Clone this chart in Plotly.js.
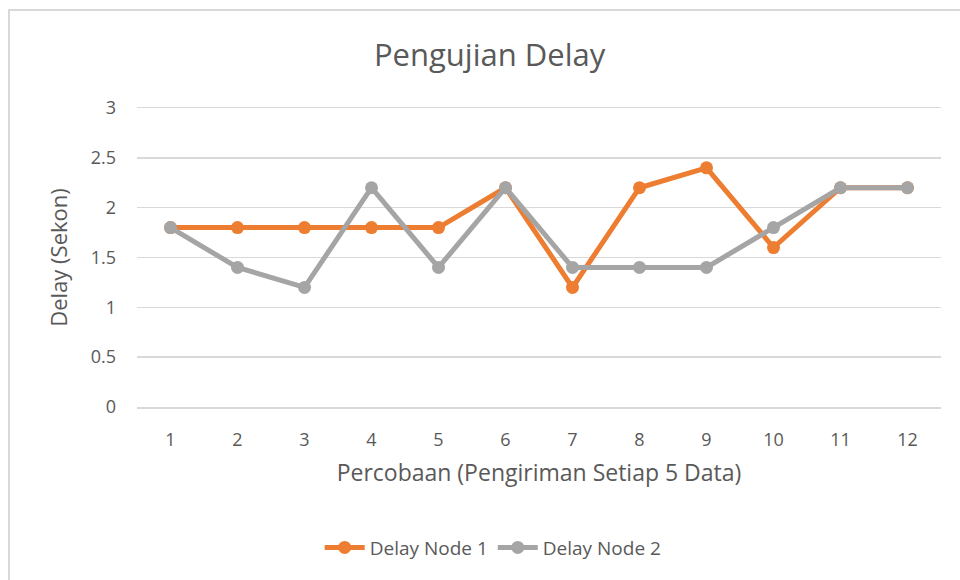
<!DOCTYPE html>
<html>
<head>
<meta charset="utf-8">
<script src="https://cdn.plot.ly/plotly-3.0.1.min.js"></script>
<style>
html,body{margin:0;padding:0;background:#fff;}
#wrap{position:relative;width:960px;height:580px;overflow:hidden;}
#chart{width:960px;height:580px;}
#frame{position:absolute;left:8px;top:9px;width:970px;height:590px;border:2px solid #d9d9d9;pointer-events:none;box-sizing:border-box;}
</style>
</head>
<body>
<div id="wrap"><div id="chart"></div><div id="frame"></div></div>
<script>
const categories = ['1','2','3','4','5','6','7','8','9','10','11','12'];
const delayNode1 = [1.8,1.8,1.8,1.8,1.8,2.2,1.2,2.2,2.4,1.6,2.2,2.2];
const delayNode2 = [1.8,1.4,1.2,2.2,1.4,2.2,1.4,1.4,1.4,1.8,2.2,2.2];
const yTicks = [0,0.5,1,1.5,2,2.5,3];

const font = "'Open Sans', 'Noto Sans', sans-serif";
const traces = [
  {x: categories, y: delayNode1, name: 'Delay Node 1', type: 'scatter', mode: 'lines+markers',
   line: {color: '#ed7d31', width: 5}, marker: {color: '#ed7d31', size: 13}},
  {x: categories, y: delayNode2, name: 'Delay Node 2', type: 'scatter', mode: 'lines+markers',
   line: {color: '#a5a5a5', width: 5}, marker: {color: '#a5a5a5', size: 13}}
];
const layout = {
  width: 960, height: 580,
  margin: {l: 137, r: 19, t: 108, b: 173},
  paper_bgcolor: '#fff', plot_bgcolor: '#fff',
  font: {family: font, color: '#595959', size: 18},
  title: {text: 'Pengujian Delay', font: {size: 31, color: '#595959', family: font}, x: 0.51, xanchor: 'center', y: 0.905, yanchor: 'middle'},
  xaxis: {type: 'category', range: [-0.5, 11.5], showgrid: false, zeroline: false,
          showline: true, mirror: true, linecolor: '#d9d9d9', linewidth: 1.5,
          ticks: '', ticklen: 0, tickfont: {size: 18, color: '#595959'}, ticklabelstandoff: 16,
          title: {text: 'Percobaan (Pengiriman Setiap 5 Data)', font: {size: 23, color: '#595959'}, standoff: 15}},
  yaxis: {range: [0, 3], tickvals: yTicks, ticktext: yTicks.map(String), showgrid: true, gridcolor: '#d9d9d9', gridwidth: 1.5,
          zeroline: false, showline: false, ticks: '', tickfont: {size: 18, color: '#595959'}, ticklabelstandoff: 20,
          title: {text: 'Delay (Sekon)', font: {size: 22, color: '#595959'}, standoff: 16}},
  showlegend: true,
  legend: {orientation: 'h', x: 0.443, xanchor: 'center', y: -0.47, yanchor: 'middle', font: {size: 19, color: '#595959'}, itemwidth: 40},
};
Plotly.newPlot('chart', traces, layout, {displayModeBar: false, staticPlot: true});
</script>
</body>
</html>
